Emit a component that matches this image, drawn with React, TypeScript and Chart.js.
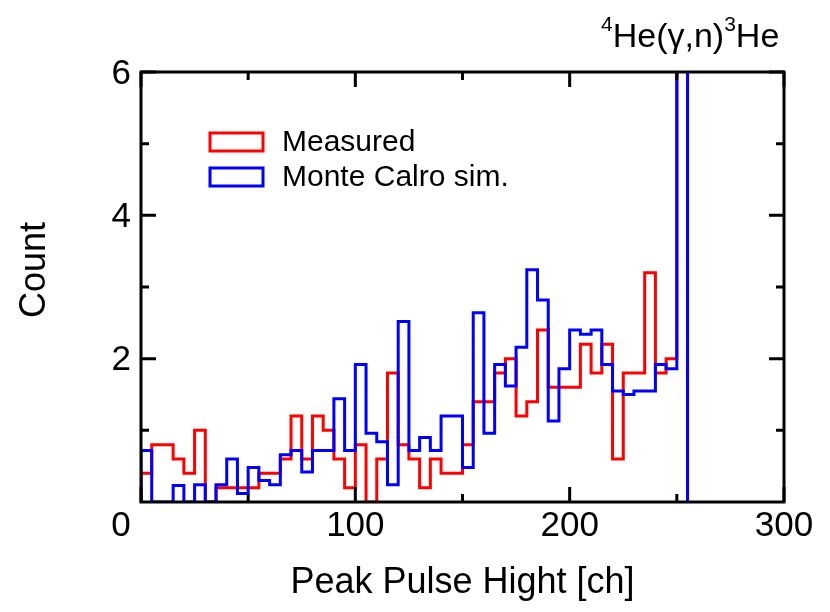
import { useEffect, useRef } from "react";
import { Chart, registerables } from "chart.js";
Chart.register(...registerables);

// Bin edges in channels (bin width 5 ch)
const binEdges = [
  0, 5, 10, 15, 20, 25, 30, 35, 40, 45, 50, 55, 60, 65, 70, 75, 80, 85, 90, 95,
  100, 105, 110, 115, 120, 125, 130, 135, 140, 145, 150, 155, 160, 165, 170, 175,
  180, 185, 190, 195, 200, 205, 210, 215, 220, 225, 230, 235, 240, 245, 250, 255,
];

// Measured counts per bin (starting at 0 ch); last bin runs off scale
const measured = [
  0.4, 0.8, 0.8, 0.6, 0.4, 1.0, 0, 0.2, 0.2, 0.2,
  0.2, 0.4, 0.4, 0.6, 1.2, 0.6, 1.2, 1.0, 0.6, 0.2,
  0.8, 0, 0.6, 1.8, 0.8, 0.6, 0.2, 0.6, 0.4, 0.4,
  0.8, 1.4, 1.4, 1.8, 2.0, 1.2, 1.4, 2.4, 1.6, 1.6,
  1.6, 2.2, 1.8, 2.2, 0.6, 1.8, 1.8, 3.2, 1.8, 2.0,
  20,
];

// Monte Carlo simulation counts per bin (starting at 0 ch); last bin runs off scale
const monteCarlo = [
  0.72, 0, 0, 0.23, 0, 0.24, 0, 0.24, 0.6, 0.12,
  0.48, 0.3, 0.24, 0.66, 0.72, 0.42, 0.72, 0.72, 1.44, 0.72,
  1.92, 0.96, 0.84, 0.24, 2.52, 0.72, 0.9, 0.72, 1.2, 1.2,
  0.48, 2.64, 0.96, 1.92, 1.62, 2.16, 3.24, 2.82, 1.13, 1.86,
  2.4, 2.34, 2.4, 1.92, 1.55, 1.5, 1.55, 1.55, 1.92, 1.86,
  20,
];

const xMajorTicks = [0, 100, 200, 300];
const xMinorTicks = [50, 150, 250];
const yMajorTicks = [2, 4, 6];
const yMinorTicks = [1, 3, 5];
const xTickLabels = ["100", "200", "300"];
const yTickLabels = ["2", "4", "6"];

const FONT = "'Liberation Sans', Arial, Helvetica, sans-serif";

function stepPoints(values: number[]) {
  const pts = [{ x: binEdges[0], y: 0 }];
  values.forEach((v, i) => pts.push({ x: binEdges[i], y: v }));
  pts.push({ x: binEdges[values.length], y: 0 });
  return pts;
}

const framePlugin = {
  id: "frame",
  afterDraw(chart: any) {
    const { ctx, chartArea, scales } = chart;
    const { left, right, top, bottom } = chartArea;
    const xs = scales.x;
    const ys = scales.y;
    ctx.save();
    ctx.strokeStyle = "#000";
    ctx.lineWidth = 3;
    ctx.strokeRect(left, top, right - left, bottom - top);
    const major = 15;
    const minor = 8;
    ctx.beginPath();
    xMajorTicks.forEach((v) => {
      const px = xs.getPixelForValue(v);
      ctx.moveTo(px, bottom);
      ctx.lineTo(px, bottom - major);
      ctx.moveTo(px, top);
      ctx.lineTo(px, top + major);
    });
    xMinorTicks.forEach((v) => {
      const px = xs.getPixelForValue(v);
      ctx.moveTo(px, bottom);
      ctx.lineTo(px, bottom - minor);
      ctx.moveTo(px, top);
      ctx.lineTo(px, top + minor);
    });
    yMajorTicks.forEach((v) => {
      const py = ys.getPixelForValue(v);
      ctx.moveTo(left, py);
      ctx.lineTo(left + major, py);
      ctx.moveTo(right, py);
      ctx.lineTo(right - major, py);
    });
    yMinorTicks.forEach((v) => {
      const py = ys.getPixelForValue(v);
      ctx.moveTo(left, py);
      ctx.lineTo(left + minor, py);
      ctx.moveTo(right, py);
      ctx.lineTo(right - minor, py);
    });
    ctx.stroke();

    // tick labels
    ctx.fillStyle = "#000";
    ctx.font = `35px ${FONT}`;
    ctx.textBaseline = "middle";
    ctx.textAlign = "center";
    xTickLabels.forEach((t) => {
      ctx.fillText(t, xs.getPixelForValue(Number(t)), bottom + 24);
    });
    ctx.fillText("0", left - 20, bottom + 24);
    ctx.textAlign = "right";
    yTickLabels.forEach((t) => {
      ctx.fillText(t, left - 10, ys.getPixelForValue(Number(t)) + 2);
    });

    // axis titles
    ctx.font = `36px ${FONT}`;
    ctx.textAlign = "center";
    ctx.fillText("Peak Pulse Hight [ch]", (left + right) / 2, bottom + 81);
    ctx.save();
    ctx.translate(35, 270);
    ctx.rotate(-Math.PI / 2);
    ctx.fillText("Count", 0, 0);
    ctx.restore();

    // legend
    ctx.lineWidth = 3;
    ctx.strokeStyle = "#ff0000";
    ctx.strokeRect(210, 133, 53, 18);
    ctx.strokeStyle = "#0000ff";
    ctx.strokeRect(210, 168, 53, 18);
    ctx.textAlign = "left";
    ctx.font = `30px ${FONT}`;
    ctx.fillText("Measured", 282, 143);
    ctx.fillText("Monte Calro sim.", 282, 178);

    // reaction label with superscripts
    ctx.textBaseline = "alphabetic";
    let x = 601;
    const base = 47;
    const parts: [string, boolean][] = [
      ["4", true],
      ["He(\u03b3,n)", false],
      ["3", true],
      ["He", false],
    ];
    parts.forEach(([txt, sup]) => {
      ctx.font = sup ? `21px ${FONT}` : `34px ${FONT}`;
      ctx.fillText(txt, x, sup ? base - 16 : base);
      x += ctx.measureText(txt).width;
    });
    ctx.restore();
  },
};

export default function App() {
  const ref = useRef<HTMLCanvasElement | null>(null);
  useEffect(() => {
    if (!ref.current) return;
    const chart = new Chart(ref.current, {
      type: "line",
      data: {
        datasets: [
          {
            label: "Measured",
            data: stepPoints(measured),
            borderColor: "#ff0000",
            borderWidth: 3,
            stepped: "before",
            pointRadius: 0,
            fill: false,
            order: 2,
          },
          {
            label: "Monte Calro sim.",
            data: stepPoints(monteCarlo),
            borderColor: "#0000ff",
            borderWidth: 3,
            stepped: "before",
            pointRadius: 0,
            fill: false,
            order: 1,
          },
        ],
      },
      options: {
        responsive: false,
        maintainAspectRatio: false,
        animation: false,
        layout: { padding: { left: 141, top: 72, right: 46, bottom: 110 } },
        scales: {
          x: { type: "linear", min: 0, max: 300, display: false },
          y: { type: "linear", min: 0, max: 6, display: false },
        },
        plugins: {
          legend: { display: false },
          tooltip: { enabled: false },
        },
      },
      plugins: [framePlugin],
    } as any);
    return () => chart.destroy();
  }, []);
  return (
    <div style={{ position: "fixed", left: 0, top: 0, width: 830, height: 612, background: "#fff" }}>
      <canvas ref={ref} width={830} height={612} style={{ display: "block" }} />
    </div>
  );
}
